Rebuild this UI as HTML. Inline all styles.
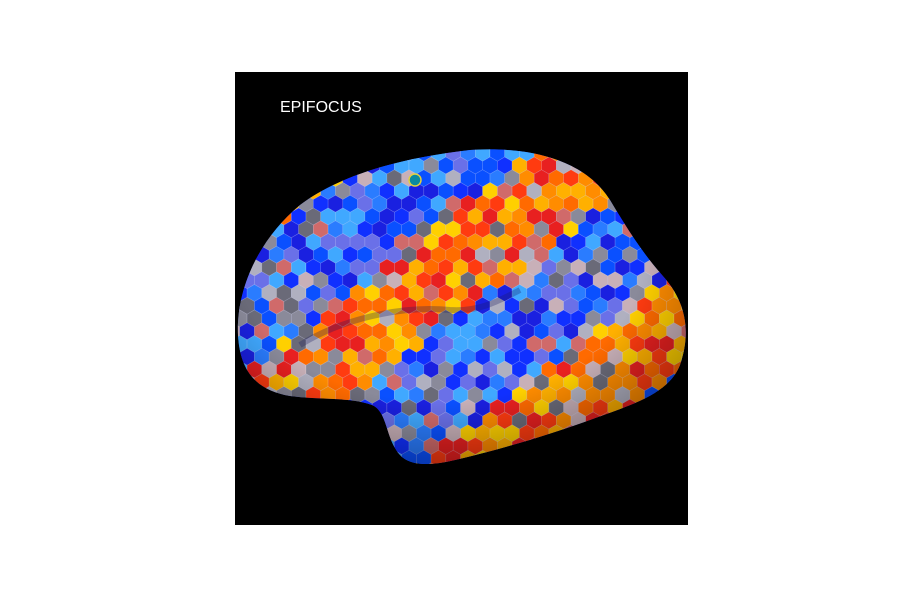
<!DOCTYPE html>
<html>
<head>
<meta charset="utf-8">
<style>
  html,body{margin:0;padding:0;background:#fff;width:900px;height:600px;overflow:hidden;}
  svg{display:block;}
</style>
</head>
<body>
<svg id="fig" width="900" height="600" viewBox="0 0 900 600" xmlns="http://www.w3.org/2000/svg">
  <rect x="0" y="0" width="900" height="600" fill="#ffffff"/>
  <rect x="235" y="72" width="453" height="453" fill="#000000"/>
  <text x="280" y="112" fill="#ffffff" font-family="Liberation Sans, sans-serif" font-size="16">EPIFOCUS</text>
  <defs>
    <clipPath id="brainClip">
      <path d="M238,335 C236,290 258,240 300,205 C340,175 400,158 470,150 C530,146 585,160 610,200 C625,225 640,250 662,275 C685,300 692,330 680,365 C668,395 630,405 590,420 C540,438 490,452 455,460 C430,466 410,466 400,455 C385,438 388,412 372,405 C350,397 320,400 290,396 C255,390 240,370 238,335 Z"/>
    </clipPath>
    <radialGradient id="shade" cx="0.45" cy="0.35" r="0.75">
      <stop offset="0.6" stop-color="#000" stop-opacity="0"/>
      <stop offset="1" stop-color="#000" stop-opacity="0.45"/>
    </radialGradient>
  </defs>
  <path d="M238,335 C236,290 258,240 300,205 C340,175 400,158 470,150 C530,146 585,160 610,200 C625,225 640,250 662,275 C685,300 692,330 680,365 C668,395 630,405 590,420 C540,438 490,452 455,460 C430,466 410,466 400,455 C385,438 388,412 372,405 C350,397 320,400 290,396 C255,390 240,370 238,335 Z" fill="#3040d0"/>
  <g id="hexes" clip-path="url(#brainClip)"></g>
  <path d="M238,335 C236,290 258,240 300,205 C340,175 400,158 470,150 C530,146 585,160 610,200 C625,225 640,250 662,275 C685,300 692,330 680,365 C668,395 630,405 590,420 C540,438 490,452 455,460 C430,466 410,466 400,455 C385,438 388,412 372,405 C350,397 320,400 290,396 C255,390 240,370 238,335 Z" fill="url(#shade)"/>
  <path d="M300,345 C340,320 400,305 450,310 C480,312 500,300 520,290" stroke="#1a1a60" stroke-width="6" fill="none" opacity="0.3" clip-path="url(#brainClip)"/>
  <circle cx="415" cy="180" r="6" fill="#0a8aa0" stroke="#e0d040" stroke-width="1.5"/>
</svg>
<script>
const warm = ['#ff3b10','#ff6a00','#ff8c00','#ffb000','#ffd000','#e82020'];
const cool = ['#1030ff','#0a50ff','#2a7cff','#40a8ff','#1a20e0','#6a70e8'];
const gray = ['#8a8a9a','#b0b0c0','#6a6a78','#c8b0b8','#d06a6a'];
const g = document.getElementById('hexes');
const r = 8.5;
const w = Math.sqrt(3)*r;
function hash(i,j){let h=(i*374761393+j*668265263)^0x5bd1e995;h=(h^(h>>>13))*1274126177;return ((h^(h>>>16))>>>0)/4294967296;}
let row=0;
for(let y=140;y<480;y+=r*1.5,row++){
  let col=0;
  for(let x=225+(row%2?w/2:0);x<700;x+=w,col++){
    const band = Math.sin(((x-235)*0.75 + (y-150)*1.0)*0.028);
    const h1 = hash(col,row), h2 = hash(row+7,col+3);
    const grayP = x<320 ? 0.35 : 0.2;
    let c;
    if(h1<grayP) c = gray[Math.floor(h2*gray.length)];
    else if(band>0.1) c = warm[Math.floor(h2*warm.length)];
    else c = cool[Math.floor(h2*cool.length)];
    let pts=[];
    for(let k=0;k<6;k++){const a=Math.PI/3*k+Math.PI/6;pts.push((x+r*Math.cos(a)).toFixed(1)+','+(y+r*Math.sin(a)).toFixed(1));}
    const p=document.createElementNS('http://www.w3.org/2000/svg','polygon');
    p.setAttribute('points',pts.join(' '));
    p.setAttribute('fill',c);
    p.setAttribute('stroke','#ffffff');
    p.setAttribute('stroke-opacity','0.25');
    p.setAttribute('stroke-width','0.6');
    
    
    g.appendChild(p);
  }
}
</script>
</body>
</html>
